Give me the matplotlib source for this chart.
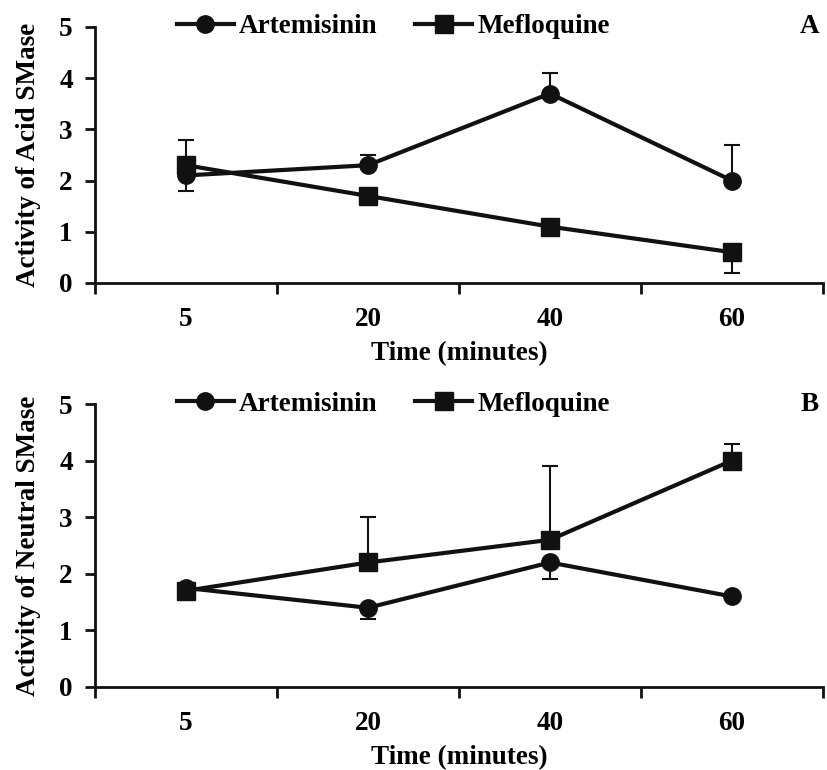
import matplotlib
matplotlib.use("Agg")
import matplotlib.pyplot as plt
import numpy as np

plt.rcParams['font.family'] = ['Liberation Serif', 'DejaVu Serif']
plt.rcParams['font.weight'] = 'bold'

categories = ['5', '20', '40', '60']

# Panel A: Acid SMase
acid_art = [2.1, 2.3, 3.7, 2.0]
acid_art_lo = [0.3, 0.0, 0.0, 0.0]
acid_art_hi = [0.0, 0.2, 0.4, 0.7]
acid_mef = [2.3, 1.7, 1.1, 0.6]
acid_mef_lo = [0.0, 0.0, 0.0, 0.4]
acid_mef_hi = [0.5, 0.0, 0.0, 0.0]

# Panel B: Neutral SMase
neut_art = [1.75, 1.4, 2.2, 1.6]
neut_art_lo = [0.0, 0.2, 0.3, 0.0]
neut_art_hi = [0.0, 0.0, 0.0, 0.0]
neut_mef = [1.7, 2.2, 2.6, 4.0]
neut_mef_lo = [0.0, 0.0, 0.0, 0.0]
neut_mef_hi = [0.0, 0.8, 1.3, 0.3]

FS = 19.5

fig = plt.figure(figsize=(8.27, 7.70), dpi=100)
axA = fig.add_axes([0.1149, 0.6325, 0.8801, 0.3325])
axB = fig.add_axes([0.1149, 0.1078, 0.8801, 0.3675])

def draw(ax, art, alo, ahi, mef, mlo, mhi, ylabel, letter):
    x = np.arange(len(categories))
    ax.errorbar(x, art, yerr=[alo, ahi], fmt='none', ecolor='#111', elinewidth=1.5,
                capsize=6, capthick=1.5, zorder=2)
    ax.errorbar(x, mef, yerr=[mlo, mhi], fmt='none', ecolor='#111', elinewidth=1.5,
                capsize=6, capthick=1.5, zorder=2)
    ax.plot(x, art, '-o', color='#111', lw=3, ms=12.5, label='Artemisinin', zorder=3)
    ax.plot(x, mef, '-s', color='#111', lw=3, ms=12.5, label='Mefloquine', zorder=3)
    ax.set_xlim(-0.5, len(categories) - 0.5)
    ax.set_ylim(0, 5)
    ax.set_yticks(range(6))
    ax.set_xticks(x)
    ax.set_xticklabels(categories)
    ax.set_xticks(np.arange(-0.5, len(categories), 1.0), minor=True)
    ax.tick_params(axis='x', which='major', length=0, pad=17, labelsize=FS)
    ax.tick_params(axis='x', which='minor', length=8, width=2, direction='out', color='#111')
    ax.tick_params(axis='y', length=7, width=2, pad=9, labelsize=FS, color='#111')
    for s in ['top', 'right']:
        ax.spines[s].set_visible(False)
    for s in ['left', 'bottom']:
        ax.spines[s].set_linewidth(2)
        ax.spines[s].set_color('#111')
    ax.set_ylabel(ylabel, fontsize=FS, fontweight='bold', labelpad=13)
    ax.set_xlabel('Time (minutes)', fontsize=FS, fontweight='bold', labelpad=7)
    leg = ax.legend(loc='center', bbox_to_anchor=(0.41, 1.0), ncol=2, frameon=False,
                    fontsize=FS, handlelength=2.1, handletextpad=0.2, columnspacing=1.4,
                    markerscale=1.0, borderpad=0, borderaxespad=0)
    for t in leg.get_texts():
        t.set_fontweight('bold')
    ax.text(0.982, 1.0, letter, transform=ax.transAxes, ha='center', va='center',
            fontsize=FS, fontweight='bold')

draw(axA, acid_art, acid_art_lo, acid_art_hi, acid_mef, acid_mef_lo, acid_mef_hi,
     'Activity of Acid SMase', 'A')
draw(axB, neut_art, neut_art_lo, neut_art_hi, neut_mef, neut_mef_lo, neut_mef_hi,
     'Activity of Neutral SMase', 'B')

for ax in (axA, axB):
    for lab in ax.get_xticklabels() + ax.get_yticklabels():
        lab.set_fontweight('bold')

fig.savefig('out.png', dpi=100)
